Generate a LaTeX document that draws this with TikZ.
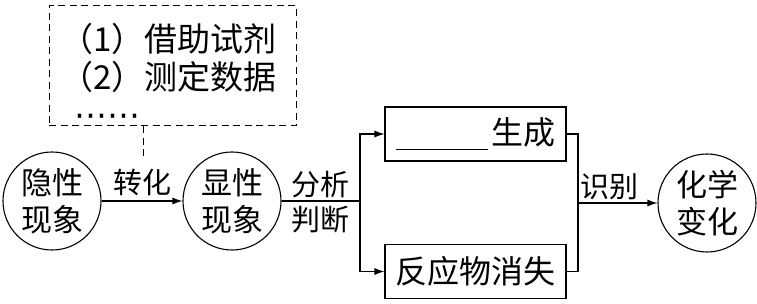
\documentclass[tikz,border=0pt]{standalone}
\usepackage{fontspec}
\setmainfont{Noto Sans CJK SC}
\newfontfamily\symfont{DejaVu Sans}
\usetikzlibrary{arrows.meta, positioning}

\begin{document}
\begin{tikzpicture}[x=1pt, y=-1pt,
    phase/.style={draw, circle, line width=1.1pt, minimum size=98pt, inner sep=0pt, align=center, font=\fontsize{31}{37}\selectfont},
    result/.style={draw, line width=1.1pt, minimum width=181pt, minimum height=54pt, inner sep=0pt, font=\fontsize{32}{37}\selectfont},
    note/.style={draw, dash pattern=on 7pt off 4.5pt, line width=1pt, minimum width=247pt, minimum height=120pt},
    tag/.style={font=\fontsize{29}{35}\selectfont, inner sep=5pt},
    >={Latex[length=10pt,width=7pt]}, line width=1.1pt
]
  \useasboundingbox (0,0) rectangle (757,304);

  \node[note] (note) at (172.5,66) {};
  \node[anchor=west, align=left, inner sep=0pt, font=\fontsize{33}{37.5}\selectfont] (notetext) at (60,75) {（1）借助试剂\\（2）测定数据\\\hspace{14pt}{\symfont ⋯⋯}};

  \node[phase] (hidden) at (52,201) {隐性\\现象};
  \node[phase] (shown) at (232,201) {显性\\现象};
  \node[phase] (chem) at (707,203) {化学\\变化};

  \node[result] (gen) at (475.5,134) {\rule[-5pt]{92pt}{1pt}\hspace{3pt}生成};
  \node[result] (gone) at (475.5,271.5) {反应物消失};

  \coordinate (split) at (360,201);
  \coordinate (join) at (578,203);
  \coordinate (tip) at (143,158);

  % dashed hint and main flow
  \draw[dash pattern=on 7pt off 4.5pt, line width=1pt] (note.south -| tip) -- (tip);
  \draw[->] (hidden) -- node[tag, above] {转化} (shown);
  \draw (shown) -- node[tag, above, inner sep=3pt] {分析} node[tag, below] {判断} (split);
  \draw[->] (split) |- (gen);
  \draw[->] (split) |- (gone);
  \draw (gen.east) -| (join) |- (gone.east);
  \draw[->] (join) -- node[tag, above, pos=0.4, inner sep=3pt] {识别} (chem);
\end{tikzpicture}
\end{document}
